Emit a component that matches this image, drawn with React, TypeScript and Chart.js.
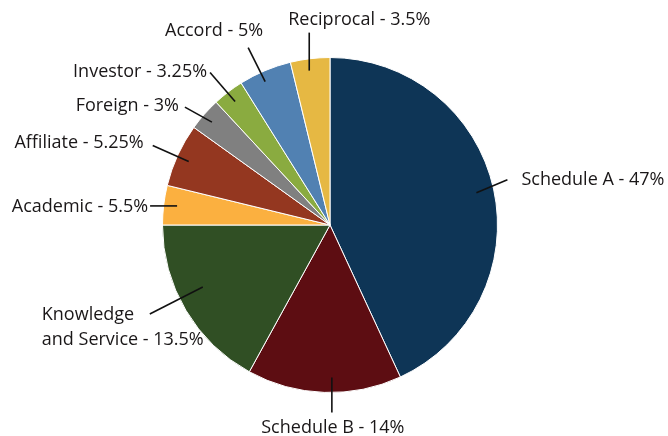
import React, { useEffect, useRef } from "react";
import { Chart, registerables } from "chart.js";

Chart.register(...registerables);

const categories = [
  "Schedule A",
  "Schedule B",
  "Knowledge and Service",
  "Academic",
  "Affiliate",
  "Foreign",
  "Investor",
  "Accord",
  "Reciprocal",
];
// slice sizes as drawn in the picture (percent of circle)
const values = [43.1, 14.9, 17.0, 3.8, 6.1, 3.2, 3.0, 5.1, 3.8];
// percentages printed in the labels
const labelPercents = ["47%", "14%", "13.5%", "5.5%", "5.25%", "3%", "3.25%", "5%", "3.5%"];
const labelLines = [
  ["Schedule A - 47%"],
  ["Schedule B - 14%"],
  ["Knowledge", "and Service - 13.5%"],
  ["Academic - 5.5%"],
  ["Affiliate - 5.25%"],
  ["Foreign - 3%"],
  ["Investor - 3.25%"],
  ["Accord - 5%"],
  ["Reciprocal - 3.5%"],
];
const colors = [
  "#0e3556",
  "#5d0d12",
  "#304f24",
  "#fbb040",
  "#943720",
  "#808080",
  "#8aab40",
  "#5181b2",
  "#e6b843",
];

// leader-line / label layout (styling)
const labelLayout = [
  { t: 0.5, r: 0.895, vx: 31, vy: -13, tx: 14, ty: 0, align: "left" },
  { t: 0.45, r: 0.91, vx: 0, vy: 35, tx: 1, ty: 15, align: "center" },
  { t: 0.575, r: 0.845, vx: -53, vy: 27, tx: -108, ty: 1, align: "left" },
  { t: 0.52, r: 0.92, vx: -27, vy: 0, tx: -2, ty: 1, align: "right" },
  { t: 0.48, r: 0.925, vx: -36, vy: -16, tx: -9, ty: -3, align: "right" },
  { t: 0.47, r: 0.935, vx: -27, vy: -15, tx: -6, ty: -1, align: "right" },
  { t: 0.49, r: 0.93, vx: -25, vy: -29, tx: -3, ty: -1, align: "right" },
  { t: 0.42, r: 0.94, vx: -17, vy: -34, tx: 15, ty: -17, align: "right" },
  { t: 0.44, r: 0.93, vx: 0, vy: -38, tx: -21, ty: -13, align: "left" },
];

const FONT = "18px 'Open Sans', sans-serif";

const leaderPlugin = {
  id: "leaderLabels",
  afterDatasetsDraw(chart: any) {
    const ctx = chart.ctx;
    const meta = chart.getDatasetMeta(0);
    ctx.save();
    meta.data.forEach((arc: any, i: number) => {
      const p = arc.getProps(["x", "y", "startAngle", "endAngle", "outerRadius"], true);
      const L = labelLayout[i];
      const a = p.startAngle + (p.endAngle - p.startAngle) * L.t;
      const ix = p.x + Math.cos(a) * p.outerRadius * L.r;
      const iy = p.y + Math.sin(a) * p.outerRadius * L.r;
      const ox = ix + L.vx;
      const oy = iy + L.vy;
      ctx.strokeStyle = "#111";
      ctx.lineWidth = 1.6;
      ctx.beginPath();
      ctx.moveTo(ix, iy);
      ctx.lineTo(ox, oy);
      ctx.stroke();
      ctx.fillStyle = "#1a1718";
      ctx.font = FONT;
      ctx.textAlign = L.align;
      ctx.textBaseline = "middle";
      labelLines[i].forEach((line: string, j: number) => {
        ctx.fillText(line, ox + L.tx, oy + L.ty + j * 25);
      });
    });
    ctx.restore();
  },
};

export default function App() {
  const ref = useRef<HTMLCanvasElement>(null);
  useEffect(() => {
    if (!ref.current) return;
    const chart = new Chart(ref.current, {
      type: "pie",
      data: {
        labels: categories.map((c, i) => `${c} - ${labelPercents[i]}`),
        datasets: [
          {
            data: values,
            backgroundColor: colors,
            borderColor: "#ffffff",
            borderWidth: 1,
          },
        ],
      },
      options: {
        responsive: false,
        animation: false,
        layout: { padding: { left: 162, right: 170, top: 57, bottom: 43 } },
        plugins: {
          legend: { display: false },
          tooltip: { enabled: false },
        },
      },
      plugins: [leaderPlugin],
    });
    return () => chart.destroy();
  }, []);
  return (
    <div style={{ position: "fixed", left: 0, top: 0, width: 668, height: 436, background: "#fff" }}>
      <canvas ref={ref} width={668} height={436} style={{ width: 668, height: 436 }} />
    </div>
  );
}
